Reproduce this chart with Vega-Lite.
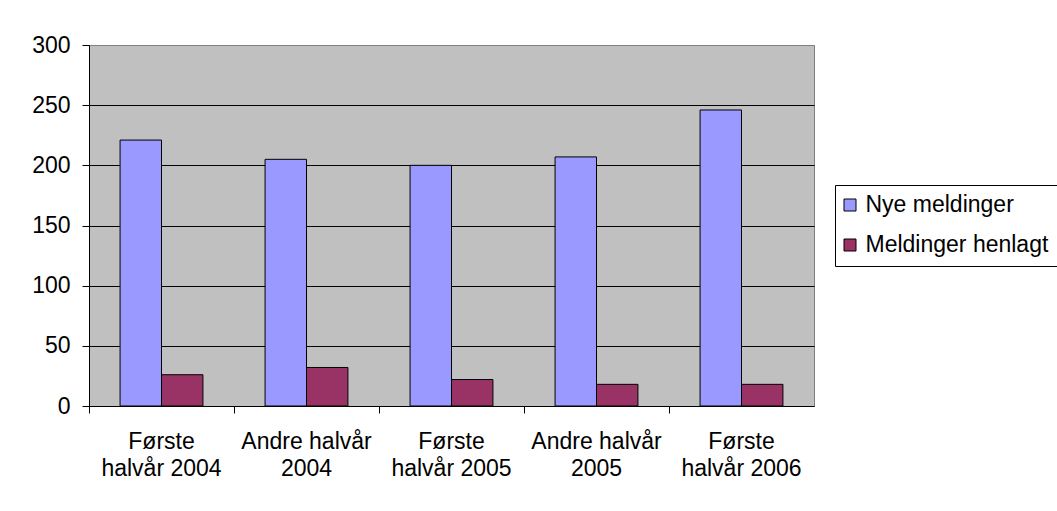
{
  "$schema": "https://vega.github.io/schema/vega-lite/v6.json",
  "width": 725,
  "height": 361,
  "autosize": "none",
  "padding": {"left": 89, "top": 45, "right": 243, "bottom": 105},
  "background": "white",
  "config": {
    "font": "Liberation Sans",
    "view": {"fill": "#C0C0C0", "stroke": "#808080", "strokeWidth": 1}
  },
  "data": {
    "values": [
      {"periode": "Første halvår 2004", "serie": "Nye meldinger", "antall": 221},
      {"periode": "Første halvår 2004", "serie": "Meldinger henlagt", "antall": 26},
      {"periode": "Andre halvår 2004", "serie": "Nye meldinger", "antall": 205},
      {"periode": "Andre halvår 2004", "serie": "Meldinger henlagt", "antall": 32},
      {"periode": "Første halvår 2005", "serie": "Nye meldinger", "antall": 200},
      {"periode": "Første halvår 2005", "serie": "Meldinger henlagt", "antall": 22},
      {"periode": "Andre halvår 2005", "serie": "Nye meldinger", "antall": 207},
      {"periode": "Andre halvår 2005", "serie": "Meldinger henlagt", "antall": 18},
      {"periode": "Første halvår 2006", "serie": "Nye meldinger", "antall": 246},
      {"periode": "Første halvår 2006", "serie": "Meldinger henlagt", "antall": 18}
    ]
  },
  "mark": {"type": "bar", "stroke": "black", "strokeWidth": 1},
  "encoding": {
    "x": {
      "field": "periode",
      "type": "nominal",
      "sort": null,
      "scale": {"paddingInner": 0, "paddingOuter": 0},
      "axis": {
        "title": null,
        "labelAngle": 0,
        "labelFontSize": 23,
        "labelColor": "black",
        "labelLineHeight": 27,
        "labelPadding": 17,
        "labelLimit": 0,
        "bandPosition": 0,
        "tickSize": 7,
        "tickColor": "black",
        "domainColor": "black",
        "grid": false,
        "labelExpr": "indexof(datum.value, 'Første') === 0 ? ['Første', replace(datum.value, 'Første ', '')] : [slice(datum.value, 0, -5), slice(datum.value, -4)]"
      }
    },
    "xOffset": {
      "field": "serie",
      "type": "nominal",
      "scale": {"domain": ["Nye meldinger", "Meldinger henlagt"], "paddingInner": 0, "paddingOuter": 0.75}
    },
    "y": {
      "field": "antall",
      "type": "quantitative",
      "scale": {"domain": [0, 300], "nice": false},
      "axis": {
        "title": null,
        "values": [0, 50, 100, 150, 200, 250, 300],
        "labelFontSize": 23,
        "labelColor": "black",
        "labelPadding": 12,
        "tickSize": 7,
        "tickColor": "black",
        "domainColor": "black",
        "grid": true,
        "gridColor": {"condition": {"test": "datum.value === 300", "value": "#808080"}, "value": "black"},
        "gridOpacity": 1
      }
    },
    "color": {
      "field": "serie",
      "type": "nominal",
      "scale": {"domain": ["Nye meldinger", "Meldinger henlagt"], "range": ["#9999FF", "#993366"]},
      "legend": {
        "orient": "none",
        "legendX": 746,
        "legendY": 140,
        "title": null,
        "symbolType": "square",
        "symbolSize": 144,
        "symbolOffset": -5,
        "symbolStrokeColor": "black",
        "symbolStrokeWidth": 1,
        "labelFontSize": 23,
        "labelColor": "black",
        "labelOffset": 4,
        "labelLimit": 0,
        "rowPadding": 16,
        "padding": 8.5,
        "strokeColor": "black",
        "fillColor": "white",
        "cornerRadius": 0
      }
    }
  }
}
